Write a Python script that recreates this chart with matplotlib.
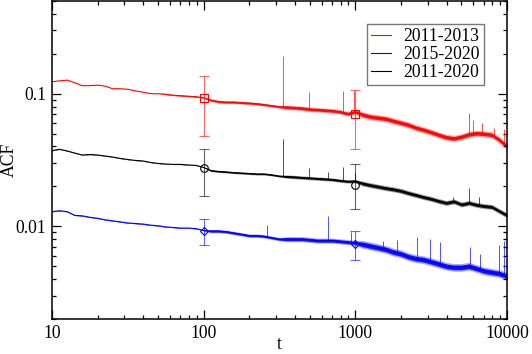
import numpy as np
import matplotlib
matplotlib.use("Agg")
import matplotlib.pyplot as plt
from matplotlib.ticker import FixedLocator, LogLocator, NullFormatter, FixedFormatter

plt.rcParams['font.family'] = ['Liberation Serif', 'DejaVu Serif']

# lag values (sampled)
t = [10, 11.2, 12.6, 14.1, 15.8, 17.8, 20.0, 22.4, 25.1, 28.2,
     31.6, 35.5, 39.8, 44.7, 50.1, 56.2, 63.1, 70.8, 79.4, 89.1,
     100, 112, 126, 141, 158, 178, 200, 224, 251, 282,
     316, 355, 398, 447, 501, 562, 631, 708, 794, 891,
     1000, 1122, 1259, 1413, 1585, 1778, 1995, 2239, 2512, 2818,
     3162, 3548, 3981, 4467, 5012, 5623, 6310, 7079, 7943, 8913, 10000]

# 2011-2013 (red)
acf_1113 = [0.123, 0.125, 0.1265, 0.121, 0.115, 0.115, 0.116, 0.114, 0.109, 0.109,
            0.108, 0.105, 0.1026, 0.100, 0.100, 0.099, 0.0974, 0.0966, 0.0957, 0.0949,
            0.0932, 0.0893, 0.0870, 0.0863, 0.0863, 0.0855, 0.0848, 0.0840, 0.0826, 0.0811,
            0.0797, 0.0790, 0.0783, 0.0776, 0.0763, 0.0757, 0.0750, 0.0743, 0.0730, 0.0706,
            0.0730, 0.0693, 0.0670, 0.0658, 0.0647, 0.0624, 0.0603, 0.0582, 0.0553, 0.0534,
            0.0512, 0.0489, 0.0469, 0.0460, 0.0473, 0.0494, 0.0503, 0.0498, 0.0489, 0.0448, 0.0400]
# 2011-2020 (black)
acf_1120 = [0.0372, 0.0381, 0.0370, 0.0357, 0.0345, 0.0348, 0.0345, 0.0339, 0.0333, 0.0325,
            0.0319, 0.0314, 0.0311, 0.0303, 0.0298, 0.0295, 0.0293, 0.0293, 0.0290, 0.0288,
            0.0278, 0.0263, 0.0259, 0.0257, 0.0254, 0.0252, 0.0250, 0.0248, 0.0248, 0.0244,
            0.0239, 0.0237, 0.0235, 0.0233, 0.0231, 0.0229, 0.0227, 0.0225, 0.0221, 0.0218,
            0.0219, 0.0210, 0.0204, 0.0199, 0.0194, 0.0190, 0.0185, 0.0178, 0.0172, 0.0166,
            0.0161, 0.0155, 0.0150, 0.0154, 0.0146, 0.0150, 0.0145, 0.0142, 0.0140, 0.0130, 0.0121]
# 2015-2020 (blue)
acf_1520 = [0.0129, 0.0131, 0.0129, 0.0121, 0.0120, 0.0117, 0.0115, 0.0112, 0.0110, 0.0108,
            0.0106, 0.0105, 0.0104, 0.0102, 0.0101, 0.0099, 0.0098, 0.0097, 0.0097, 0.0096,
            0.0093, 0.0092, 0.0092, 0.0091, 0.0089, 0.0087, 0.0085, 0.0085, 0.0084, 0.0082,
            0.0080, 0.0080, 0.0080, 0.0080, 0.0079, 0.0078, 0.0078, 0.0078, 0.0077, 0.0076,
            0.0075, 0.0073, 0.0071, 0.0069, 0.0067, 0.0064, 0.0062, 0.0059, 0.0057, 0.0056,
            0.0054, 0.0052, 0.0050, 0.0049, 0.0049, 0.0050, 0.0048, 0.0046, 0.0045, 0.0044, 0.0042]

# fluctuation band (relative half-width of the noisy band)
spread_1113 = [1.0] * 15 + [1.01] * 6 + [1.025] * 10 + [1.04] * 10 + [1.055] * 20
spread_1120 = [1.004] * 21 + [1.018] * 10 + [1.03] * 10 + [1.045] * 20
spread_1520 = [1.006] * 21 + [1.03] * 10 + [1.045] * 10 + [1.07] * 20

# isolated spikes (lag, peak value)
spike_t_1113 = [335, 494, 830, 985, 5640, 5950, 6800, 8200, 9600]
spike_v_1113 = [0.194, 0.1025, 0.105, 0.104, 0.0715, 0.0635, 0.060, 0.055, 0.054]
spike_t_1120 = [335, 494, 660, 830, 1000, 4400, 5640, 6500]
spike_v_1120 = [0.0455, 0.0277, 0.0256, 0.0281, 0.0252, 0.0167, 0.0193, 0.0165]
spike_t_1520 = [260, 660, 930, 1520, 1880, 2535, 3100, 3600, 5700, 6600, 8900, 9600]
spike_v_1520 = [0.0102, 0.0119, 0.0090, 0.0078, 0.0079, 0.0083, 0.0080, 0.0076, 0.0070, 0.0062, 0.0072, 0.0078]

# error bars at t = 100 and 1000: centre, low, high
eb_t = [100, 1000]
eb_c_1113 = [0.093, 0.0706]
eb_lo_1113 = [0.048, 0.038]
eb_hi_1113 = [0.135, 0.106]
eb_c_1120 = [0.0277, 0.0204]
eb_lo_1120 = [0.017, 0.0134]
eb_hi_1120 = [0.038, 0.0295]
eb_c_1520 = [0.0092, 0.0074]
eb_lo_1520 = [0.0072, 0.0056]
eb_hi_1520 = [0.0113, 0.0092]

labels = ['2011-2013', '2015-2020', '2011-2020']

fig = plt.figure(figsize=(5.32, 3.54), dpi=100)
ax = fig.add_axes([52 / 532, 1 - 319 / 354, 455 / 532, 318 / 354])
ax.set_xscale('log')
ax.set_yscale('log')

series = [
    (acf_1113, spread_1113, spike_t_1113, spike_v_1113, eb_c_1113, eb_lo_1113, eb_hi_1113, '#ff0000', 's', labels[0]),
    (acf_1520, spread_1520, spike_t_1520, spike_v_1520, eb_c_1520, eb_lo_1520, eb_hi_1520, '#0000ff', 'D', labels[1]),
    (acf_1120, spread_1120, spike_t_1120, spike_v_1120, eb_c_1120, eb_lo_1120, eb_hi_1120, '#000000', 'o', labels[2]),
]

tt = np.array(t)
handles = []
for vals, spr, st, sv, ec, elo, ehi, col, mk, lab in series:
    v = np.array(vals)
    s = np.array(spr)
    ax.fill_between(tt, v / s, v * s, color=col, lw=0, alpha=0.35)
    ax.fill_between(tt, v / s ** 0.6, v * s ** 0.6, color=col, lw=0, alpha=0.9)
    ln, = ax.plot(tt, v, color=col, lw=0.8, label=lab)
    handles.append(ln)
    base = np.exp(np.interp(np.log(st), np.log(tt), np.log(v)))
    ax.vlines(st, base, sv, color=col, lw=0.6, alpha=0.8)
    ec = np.array(ec)
    yerr = [ec - np.array(elo), np.array(ehi) - ec]
    ax.errorbar(eb_t, ec, yerr=yerr, fmt='none', ecolor=col, elinewidth=0.8,
                capsize=3.6, capthick=0.8, alpha=0.6)
    ax.plot(eb_t, ec, ls='none', marker=mk, mfc='none', mec=col, mew=0.8,
            ms=5.5 if mk != 'D' else 4.5)

ax.set_xlim(10, 10000)
ax.set_ylim(0.002, 0.5)

ax.xaxis.set_major_locator(FixedLocator([10, 100, 1000, 10000]))
ax.xaxis.set_major_formatter(FixedFormatter(['10', '100', '1000', '10000']))
ax.xaxis.set_minor_locator(LogLocator(base=10, subs=np.arange(2, 10), numticks=20))
ax.xaxis.set_minor_formatter(NullFormatter())
ax.yaxis.set_major_locator(FixedLocator([0.01, 0.1]))
ax.yaxis.set_major_formatter(FixedFormatter(['0.01', '0.1']))
ax.yaxis.set_minor_locator(LogLocator(base=10, subs=np.arange(2, 10), numticks=20))
ax.yaxis.set_minor_formatter(NullFormatter())

ax.tick_params(which='both', direction='in', top=True, right=True, labelsize=12.7, width=0.9)
ax.tick_params(which='major', length=6.5, pad=4)
ax.tick_params(which='minor', length=3.2)
for sp in ax.spines.values():
    sp.set_linewidth(1.1)

ax.set_xlabel('t', fontsize=12.7)
ax.xaxis.set_label_coords(0.5, -0.052)
ax.set_ylabel('ACF', fontsize=12.7)
ax.yaxis.set_label_coords(-0.075, 0.5)

leg = ax.legend(handles=handles, loc='upper right', bbox_to_anchor=(0.949, 0.928),
                borderaxespad=0, fontsize=12.7, handlelength=1.1, handletextpad=0.7,
                labelspacing=0.05, borderpad=0.25, fancybox=False, frameon=True)
leg.get_frame().set_edgecolor('#555555')
leg.get_frame().set_linewidth(1.0)

fig.savefig('out.png', dpi=100)
